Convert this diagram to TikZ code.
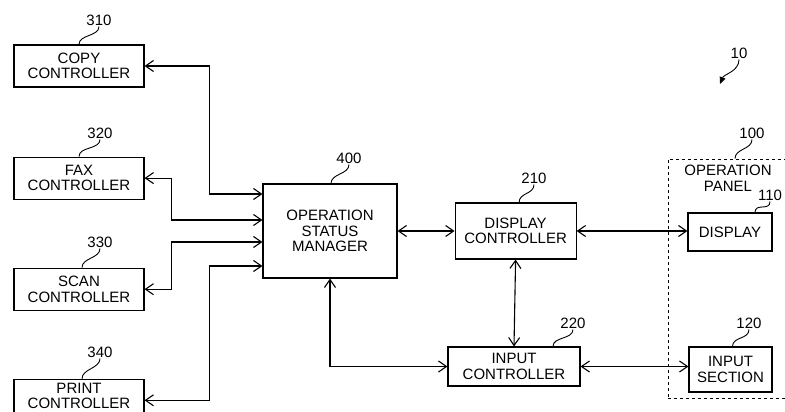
\documentclass[tikz,border=0pt]{standalone}
\usepackage{fontspec}
\setmainfont{Liberation Sans}
\usetikzlibrary{arrows.meta, positioning}

\begin{document}
\begin{tikzpicture}[
		% global settings (1 unit = 1pt, y grows downward)
		x=1pt, y=-1pt,
		font=\fontsize{15}{15.5}\selectfont,
		% styles
		block/.style={rectangle, draw, line width=1.1pt, align=center, inner sep=0pt},
		ctrl/.style={block, minimum width=130pt, minimum height=42pt},
		panelbox/.style={rectangle, draw, dashed, line width=0.9pt, inner sep=0pt},
		refnum/.style={inner sep=1pt},
		link/.style={{Straight Barb[length=8pt,width=11pt]}-{Straight Barb[length=8pt,width=11pt]}, line width=1.1pt},
		leader/.style={line width=0.9pt}
		]
		
		\useasboundingbox (0,0) rectangle (785,412);
		\clip (0,0) rectangle (785,412);
		
		% ==========================================
		% Job controllers (left column)
		% ==========================================
		\node[ctrl] (copy) at (79,66) {COPY\\CONTROLLER};
		\node[ctrl, below=69pt of copy] (fax) {FAX\\CONTROLLER};
		\node[ctrl, below=68pt of fax] (scan) {SCAN\\CONTROLLER};
		% box runs off the bottom edge, text kept inside the page
		\node[ctrl, below=68pt of scan, text height=29.5pt, text depth=12.5pt] (print) {PRINT\\CONTROLLER};
		
		% ==========================================
		% Manager and panel controllers
		% ==========================================
		\node[block, minimum width=134pt, minimum height=94pt] (osm) at (330,231) {OPERATION\\STATUS\\MANAGER};
		\node[block, right=57pt of osm, minimum width=121pt, minimum height=56pt] (dispctrl) {DISPLAY\\CONTROLLER};
		\node[block, minimum width=132pt, minimum height=39pt] (inputctrl) at (514,366.5) {INPUT\\CONTROLLER};
		
		% ==========================================
		% Operation panel (dashed frame)
		% ==========================================
		\node[panelbox, minimum width=132pt, minimum height=239pt] (panel) at (734,278.5) {};
		\node[align=center, inner sep=0pt] (paneltext) at (728,178.5) {OPERATION\\PANEL};
		\node[block, minimum width=84pt, minimum height=38pt] (display) at (730,232) {DISPLAY};
		\node[block, minimum width=83pt, minimum height=45pt] (inputsec) at (730.5,369.5) {INPUT\\SECTION};
		
		% connectors to the manager
		\draw[link] (copy.east) -| ([xshift=-53pt,yshift=37pt]osm.west) -- ([yshift=37pt]osm.west);
		\draw[link] (fax.east) -| ([xshift=-91pt,yshift=11pt]osm.west) -- ([yshift=11pt]osm.west);
		\draw[link] (scan.east) -| ([xshift=-91pt,yshift=-11pt]osm.west) -- ([yshift=-11pt]osm.west);
		\draw[link] (print.east) -| ([xshift=-53pt,yshift=-35pt]osm.west) -- ([yshift=-35pt]osm.west);
		
		% connectors on the right side
		\draw[link] (osm.east) -- (dispctrl.west);
		\draw[link] (dispctrl.south) -- (inputctrl.north);
		\draw[link] (osm.south) |- (inputctrl.west);
		\draw[link] (dispctrl.east) -- (display.west |- dispctrl.east);
		\draw[link] (inputctrl.east) -- (inputsec.west |- inputctrl.east);
		
		% ==========================================
		% Reference numerals
		% ==========================================
		\node[refnum] (n310) at (99,20) {310};
		\node[refnum] (n320) at (100,133) {320};
		\node[refnum] (n330) at (100,242) {330};
		\node[refnum] (n340) at (100,352) {340};
		\node[refnum] (n400) at (349,158) {400};
		\node[refnum] (n210) at (534,178) {210};
		\node[refnum] (n220) at (573,323) {220};
		\node[refnum] (n100) at (752,133) {100};
		\node[refnum] (n110) at (770,195) {110};
		\node[refnum] (n120) at (749,323) {120};
		\node[refnum] (n10) at (739,53) {10};
		\coordinate (sysarrow) at (720,84);
		
		\draw[leader] (n310.south) .. controls +(0,10) and +(0,-10) .. (copy.north);
		\draw[leader] (n320.south) .. controls +(0,10) and +(0,-10) .. (fax.north);
		\draw[leader] (n330.south) .. controls +(0,10) and +(0,-10) .. ([xshift=3pt]scan.north);
		\draw[leader] (n340.south) .. controls +(0,10) and +(0,-10) .. ([xshift=3pt]print.north);
		\draw[leader] (n400.south) .. controls +(0,10) and +(0,-10) .. ([xshift=1pt]osm.north);
		\draw[leader] (n210.south) .. controls +(0,10) and +(0,-10) .. ([xshift=3.5pt]dispctrl.north);
		\draw[leader] (n220.south) .. controls +(0,10) and +(0,-10) .. ([xshift=39pt]inputctrl.north);
		\draw[leader] (n100.south) .. controls +(0,10) and +(0,-10) .. ([xshift=1pt]panel.north);
		\draw[leader] (n110.south) .. controls +(0,10) and +(0,-10) .. ([xshift=25pt]display.north);
		\draw[leader] (n120.south) .. controls +(0,10) and +(0,-10) .. ([xshift=2pt]inputsec.north);
		\draw[leader, -{Triangle[length=7pt,width=6pt]}] (n10.south) .. controls +(0,12) and +(4,-10) .. (sysarrow);
		
	\end{tikzpicture}
\end{document}
